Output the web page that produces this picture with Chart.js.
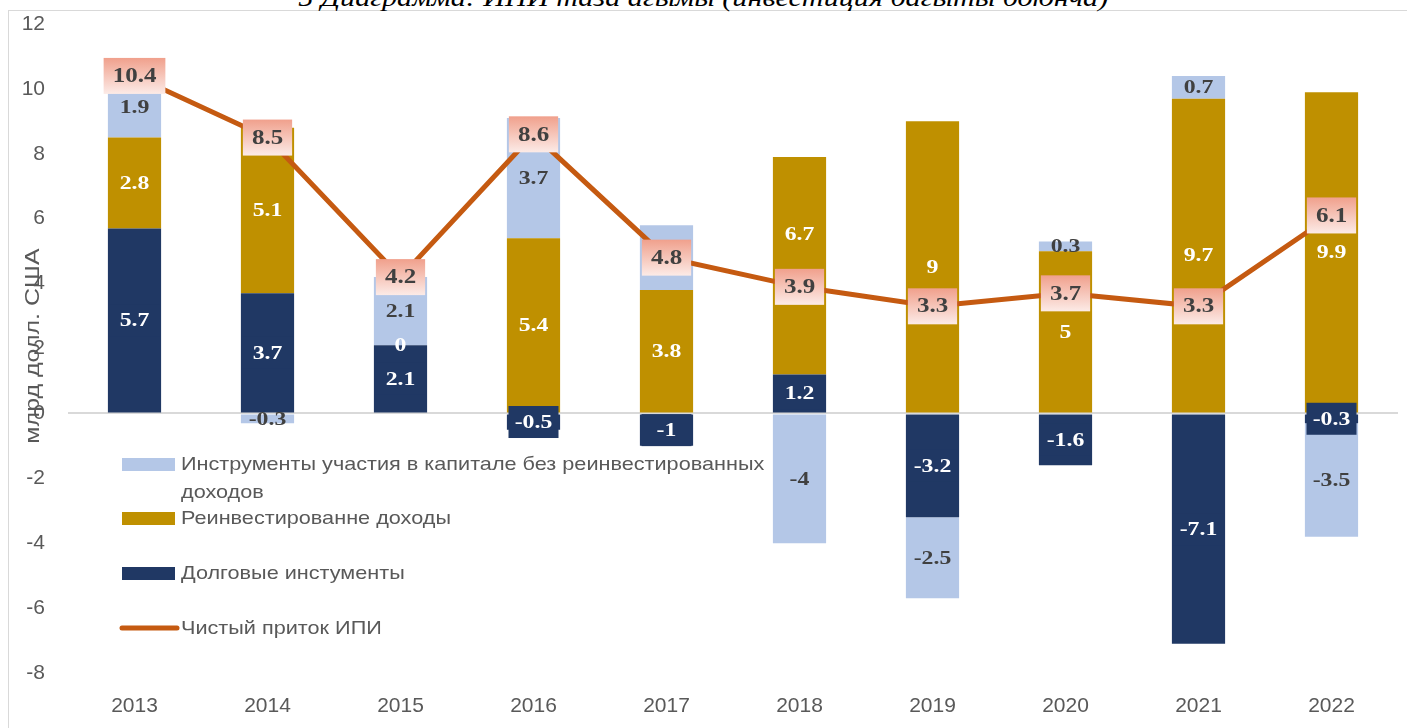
<!DOCTYPE html>
<html>
<head>
<meta charset="utf-8">
<script src="https://cdn.jsdelivr.net/npm/chart.js@4"></script>
<style>
  html, body { margin: 0; padding: 0; background: #fff; overflow: hidden; }
  #frame { position: absolute; left: 8px; top: 10px; width: 1420px; height: 740px; border: 1px solid #d9d9d9; }
  #title { position: absolute; left: 0; width: 1407px; top: -17px; text-align: center; white-space: nowrap;
           font: italic 26px "Liberation Serif", serif; color: #000; transform: scaleX(1.16); transform-origin: 705px 0; }
  #wrap { position: absolute; left: 0; top: 0; width: 1407px; height: 728px; }
</style>
</head>
<body>
<div id="frame"></div>
<div id="title">5 Диаграмма: ИПИ таза агымы (инвестиция багыты боюнча)</div>
<div id="wrap"><canvas id="chart"></canvas></div>
<script>
var years = ["2013", "2014", "2015", "2016", "2017", "2018", "2019", "2020", "2021", "2022"];
var debt = [5.7, 3.7, 2.1, -0.5, -1, 1.2, -3.2, -1.6, -7.1, -0.3];
var reinvested = [2.8, 5.1, 0, 5.4, 3.8, 6.7, 9, 5, 9.7, 9.9];
var equity = [1.9, -0.3, 2.1, 3.7, 2, -4, -2.5, 0.3, 0.7, -3.5];
var netInflow = [10.4, 8.5, 4.2, 8.6, 4.8, 3.9, 3.3, 3.7, 3.3, 6.1];

var names = {
  equity: ["Инструменты участия в капитале без реинвестированных", "доходов"],
  reinvested: "Реинвестированне доходы",
  debt: "Долговые инстументы",
  net: "Чистый приток ИПИ"
};
var yTitle = "млрд долл. США";

// label moved by hand in the original (2018 reinvested, pixels up)
var labelNudge = { reinvested: { 5: -32 } };

var cEquity = "#b4c7e7", cReinv = "#bf9000", cDebt = "#203864", cLine = "#c55a11";
var grey = "#595959";

function stretchText(ctx, text, x, y, sx) {
  ctx.save();
  ctx.translate(x, y);
  ctx.scale(sx, 1);
  ctx.fillText(text, 0, 0);
  ctx.restore();
}

var labelPlugin = {
  id: "labels",
  afterDatasetsDraw: function (chart) {
    var ctx = chart.ctx;
    var sx = 1.25;
    ctx.save();
    ctx.font = "bold 19px 'Liberation Serif', serif";
    ctx.textAlign = "center";
    ctx.textBaseline = "middle";
    // bar segment labels
    for (var d = 0; d < 3; d++) {
      var ds = chart.data.datasets[d];
      var meta = chart.getDatasetMeta(d);
      var nudge = labelNudge[ds.key] || {};
      for (var i = 0; i < meta.data.length; i++) {
        var el = meta.data[i];
        var cy = (el.y + el.base) / 2 + (nudge[i] || 0);
        var txt = String(ds.data[i]);
        if (ds.key === "debt") {
          var w = Math.max(50, ctx.measureText(txt).width * sx + 12);
          ctx.fillStyle = cDebt;
          ctx.fillRect(el.x - w / 2, cy - 16, w, 32);
          ctx.fillStyle = "#fff";
        } else if (ds.key === "reinvested") {
          ctx.fillStyle = "#fff";
        } else {
          ctx.fillStyle = "#404040";
        }
        stretchText(ctx, txt, el.x, cy + 1, sx);
      }
    }
    // line labels with gradient box
    var lm = chart.getDatasetMeta(3);
    var lds = chart.data.datasets[3];
    ctx.font = "bold 20px 'Liberation Serif', serif";
    for (var j = 0; j < lm.data.length; j++) {
      var p = lm.data[j];
      var t = String(lds.data[j]);
      var bw = ctx.measureText(t).width * sx + 18;
      var bh = 36;
      var g = ctx.createLinearGradient(0, p.y - bh / 2, 0, p.y + bh / 2);
      g.addColorStop(0, "#f0a08c");
      g.addColorStop(1, "#fcebe7");
      ctx.fillStyle = g;
      ctx.fillRect(p.x - bw / 2, p.y - bh / 2, bw, bh);
      ctx.fillStyle = "#404040";
      stretchText(ctx, t, p.x, p.y + 1, sx);
    }
    ctx.restore();
  },
  afterDraw: function (chart) {
    var ctx = chart.ctx;
    ctx.save();
    // y axis title
    ctx.font = "20px 'Liberation Sans', sans-serif";
    ctx.fillStyle = grey;
    ctx.textAlign = "center";
    ctx.textBaseline = "middle";
    ctx.translate(33, 346);
    ctx.rotate(-Math.PI / 2);
    ctx.scale(1.25, 1);
    ctx.fillText(yTitle, 0, 0);
    ctx.restore();

    // legend
    ctx.save();
    ctx.font = "19px 'Liberation Sans', sans-serif";
    ctx.textAlign = "left";
    ctx.textBaseline = "middle";
    var lx = 122, tx = 181, lsx = 1.14;
    ctx.fillStyle = cEquity;
    ctx.fillRect(lx, 458, 53, 13);
    ctx.fillStyle = cReinv;
    ctx.fillRect(lx, 512, 53, 13);
    ctx.fillStyle = cDebt;
    ctx.fillRect(lx, 567, 53, 13);
    ctx.strokeStyle = cLine;
    ctx.lineWidth = 5;
    ctx.lineCap = "round";
    ctx.beginPath();
    ctx.moveTo(lx, 628);
    ctx.lineTo(lx + 55, 628);
    ctx.stroke();
    ctx.fillStyle = grey;
    stretchText(ctx, names.equity[0], tx, 465, lsx);
    stretchText(ctx, names.equity[1], tx, 493, lsx);
    stretchText(ctx, names.reinvested, tx, 519, lsx);
    stretchText(ctx, names.debt, tx, 574, lsx);
    stretchText(ctx, names.net, tx, 629, lsx);
    ctx.restore();
  }
};

new Chart(document.getElementById("chart"), {
  type: "bar",
  data: {
    labels: years,
    datasets: [
      { key: "debt", label: names.debt, data: debt, backgroundColor: cDebt, order: 1 },
      { key: "reinvested", label: names.reinvested, data: reinvested, backgroundColor: cReinv, order: 1 },
      { key: "equity", label: names.equity.join(" "), data: equity, backgroundColor: cEquity, order: 1 },
      {
        key: "net", type: "line", label: names.net, data: netInflow, stack: "net",
        borderColor: cLine, borderWidth: 5, pointRadius: 0, tension: 0, fill: false, order: 0
      }
    ]
  },
  options: {
    responsive: true,
    maintainAspectRatio: false,
    animation: false,
    layout: { padding: { top: 24, right: 9, bottom: 0, left: 0 } },
    datasets: { bar: { barPercentage: 0.4, categoryPercentage: 1.0 } },
    plugins: { legend: { display: false }, tooltip: { enabled: false } },
    scales: {
      x: {
        stacked: true,
        grid: { display: false },
        border: { display: false },
        ticks: { color: grey, font: { family: "'Liberation Sans', sans-serif", size: 21 }, padding: 13 },
        afterFit: function (s) { s.height = 55; s.paddingLeft = 0; s.paddingRight = 0; }
      },
      y: {
        stacked: true,
        min: -8,
        max: 12,
        border: { display: false },
        grid: {
          drawTicks: false,
          lineWidth: 2,
          color: function (c) { return c.tick && c.tick.value === 0 ? "#d9d9d9" : "rgba(0,0,0,0)"; }
        },
        ticks: { stepSize: 2, color: grey, font: { family: "'Liberation Sans', sans-serif", size: 21 }, padding: 23 },
        afterFit: function (s) { s.width = 68; s.paddingTop = 0; s.paddingBottom = 0; }
      }
    }
  },
  plugins: [labelPlugin]
});
</script>
</body>
</html>
